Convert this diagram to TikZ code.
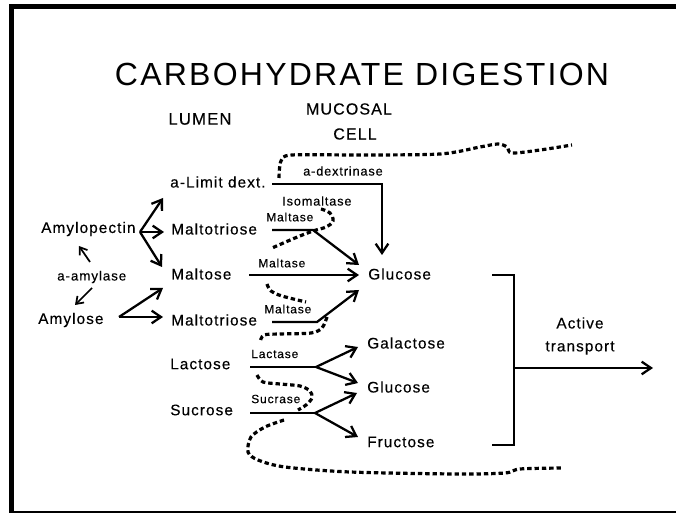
\documentclass[tikz,border=0pt]{standalone}
\usepackage{fontspec}
\setmainfont{Liberation Sans}[LetterSpace=7,FakeBold=0.3]
\newfontfamily\titlefont{Liberation Sans}[LetterSpace=7]
\usetikzlibrary{arrows.meta}
\begin{document}
\begin{tikzpicture}[x=0.75pt,y=-0.75pt,
  lab/.style={inner sep=0pt, anchor=west, font=\fontsize{11.5}{13}\selectfont},
  enz/.style={inner sep=0pt, anchor=west, font=\fontsize{9}{10}\selectfont},
  head/.style={inner sep=0pt, font=\fontsize{12.5}{14}\selectfont},
  arr/.style={line width=1.7pt, -{Straight Barb[length=7pt,width=9.5pt]}},
  arrsmall/.style={line width=1.3pt, -{Straight Barb[length=5pt,width=7pt]}},
  ln/.style={line width=1.7pt},
  mem/.style={line width=2.4pt, dash pattern=on 3.3pt off 2.2pt}]
\useasboundingbox (0,0) rectangle (676,513);
% frame
\fill[black] (9,4) rectangle (676,9);
\fill[black] (9,4) rectangle (14,513);
\fill[black] (9,511) rectangle (676,513);

% headings
\node[inner sep=0pt, font=\titlefont\fontsize{24}{28}\selectfont] (title) at (362,74) {CARBOHYDRATE DIGESTION};
\node[head] (lumen) at (200,119) {LUMEN};
\node[head, font=\fontsize{12}{14}\selectfont] (mucosal) at (349,109) {MUCOSAL};
\node[head, font=\fontsize{12}{14}\selectfont] (cell) at (355,134) {CELL};

% substrates
\node[lab] (limit) at (170,182) {a-Limit dext.};
\node[lab] (amylopectin) at (41,229) {Amylopectin};
\node[lab] (malt1) at (171,229) {Maltotriose};
\node[lab, font=\fontsize{10}{12}\selectfont] (amylase) at (57,277) {a-amylase};
\node[lab] (maltose) at (171,274) {Maltose};
\node[lab] (amylose) at (38,320) {Amylose};
\node[lab] (malt2) at (171,320) {Maltotriose};
\node[lab] (lactose) at (170,364) {Lactose};
\node[lab] (sucrose) at (170,410) {Sucrose};
% products
\node[lab] (glucose) at (368,274) {Glucose};
\node[lab] (galactose) at (367,343) {Galactose};
\node[lab] (glucose2) at (367,387) {Glucose};
\node[lab] (fructose) at (367,442) {Fructose};
\node[inner sep=0pt, font=\fontsize{11.5}{13}\selectfont] (active) at (580,323) {Active};
\node[inner sep=0pt, font=\fontsize{11.5}{13}\selectfont] (transport) at (580,348) {transport};
% enzymes
\node[enz, font=\fontsize{9.5}{11}\selectfont] (dextrinase) at (303,171) {a-dextrinase};
\node[enz, font=\fontsize{9.5}{11}\selectfont] (isomaltase) at (282,201) {Isomaltase};
\node[enz] (maltaseA) at (266,217) {Maltase};
\node[enz] (maltaseB) at (258,263) {Maltase};
\node[enz] (maltaseC) at (264,309) {Maltase};
\node[enz] (lactase) at (251,354) {Lactase};
\node[enz] (sucrase) at (251,399) {Sucrase};

% junction and tip coordinates
\coordinate (jA) at (140,232);
\coordinate (tLimit) at (163,198);
\coordinate (tMalt1) at (164,232);
\coordinate (tMaltoseA) at (162,267);
\coordinate (jB) at (119,317);
\coordinate (tMaltoseB) at (163,288);
\coordinate (tMalt2) at (163,317);
\coordinate (aUp0) at (90,262);
\coordinate (aUp1) at (79,246);
\coordinate (aDn0) at (92,288);
\coordinate (aDn1) at (75,305);

\coordinate (dx0) at (272,184);
\coordinate (dx1) at (382,184);
\coordinate (dx2) at (382,255);
\coordinate (m10) at (272,230);
\coordinate (m11) at (313,230);
\coordinate (m12) at (359,265);
\coordinate (ms0) at (249,275);
\coordinate (ms1) at (359,275);
\coordinate (m20) at (272,322);
\coordinate (m21) at (317,322);
\coordinate (m22) at (359,290);
\coordinate (l0) at (250,367);
\coordinate (l1) at (316,367);
\coordinate (lGa) at (358,347);
\coordinate (lGl) at (358,383);
\coordinate (s0) at (250,413);
\coordinate (s1) at (315,413);
\coordinate (sGl) at (357,393);
\coordinate (sFr) at (358,437);
\coordinate (b0) at (492,275);
\coordinate (b1) at (514,275);
\coordinate (b2) at (514,445);
\coordinate (b3) at (492,445);
\coordinate (bm) at (514,368);
\coordinate (bOut) at (653,368);

% lumen arrows
\draw[arr] (jA) -- (tLimit);
\draw[arr] (jA) -- (tMalt1);
\draw[arr] (jA) -- (tMaltoseA);
\draw[arr] (jB) -- (tMaltoseB);
\draw[arr] (jB) -- (tMalt2);
\draw[arrsmall] (aUp0) -- (aUp1);
\draw[arrsmall] (aDn0) -- (aDn1);

% brush border enzyme arrows
\draw[arr] (dx0) -- (dx1) -- (dx2);
\draw[arr] (m10) -- (m11) -- (m12);
\draw[arr] (ms0) -- (ms1);
\draw[arr] (m20) -- (m21) -- (m22);
\draw[ln] (l0) -- (l1);
\draw[arr] (l1) -- (lGa);
\draw[arr] (l1) -- (lGl);
\draw[ln] (s0) -- (s1);
\draw[arr] (s1) -- (sGl);
\draw[arr] (s1) -- (sFr);

% bracket and active transport
\draw[ln] (b0) -- (b1) -- (b2) -- (b3);
\draw[arr] (bm) -- (bOut);

% membrane (dotted)
\draw[mem] plot[smooth, tension=0.5] coordinates {(279,178) (281,161) (292,155) (360,155) (440,154) (480,147) (498,144) (507,147) (512,153) (540,150) (572,145)};
\draw[mem] plot[smooth, tension=0.6] coordinates {(321,209) (330,213) (333,221) (326,227) (313,231) (295,238) (272,248)};
\draw[mem] plot[smooth, tension=0.6] coordinates {(267,284) (271,291) (282,296) (306,302)};
\draw[mem] plot[smooth, tension=0.5] coordinates {(327,317) (322,328) (311,333) (280,334) (264,335) (260,342)};
\draw[mem] plot[smooth, tension=0.5] coordinates {(257,375) (263,382) (280,384) (300,386) (310,391) (312,398) (306,405) (298,410)};
\draw[mem] plot[smooth, tension=0.5] coordinates {(284,420) (265,427) (251,437) (248,452) (258,460) (285,467) (350,472) (457,474) (505,473) (520,469) (563,468)};
\end{tikzpicture}
\end{document}
